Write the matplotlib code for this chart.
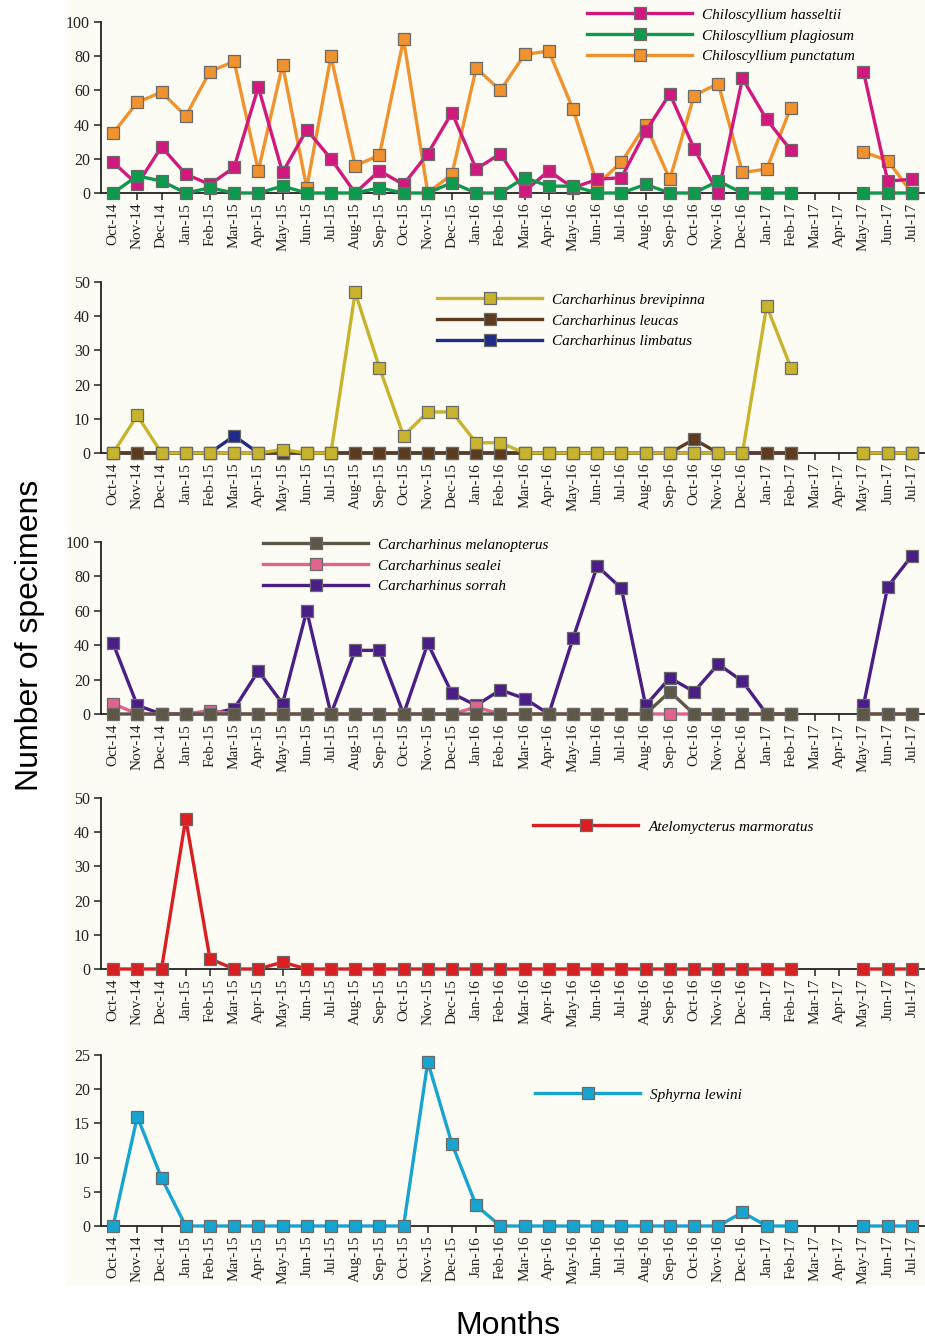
import numpy as np
import matplotlib
matplotlib.use("Agg")
import matplotlib.pyplot as plt
from matplotlib.patches import Rectangle

nan = np.nan

months = ["Oct-14", "Nov-14", "Dec-14", "Jan-15", "Feb-15", "Mar-15", "Apr-15",
          "May-15", "Jun-15", "Jul-15", "Aug-15", "Sep-15", "Oct-15", "Nov-15",
          "Dec-15", "Jan-16", "Feb-16", "Mar-16", "Apr-16", "May-16", "Jun-16",
          "Jul-16", "Aug-16", "Sep-16", "Oct-16", "Nov-16", "Dec-16", "Jan-17",
          "Feb-17", "Mar-17", "Apr-17", "May-17", "Jun-17", "Jul-17"]

# Monthly specimen counts (no sampling in Mar-17 and Apr-17)
hasseltii = [18, 5, 27, 11, 5, 15, 62, 12, 37, 20, 0, 13, 5, 23, 47, 14, 23, 1, 13, 3,
             8, 9, 36, 58, 26, 0, 67, 43, 25, nan, nan, 71, 7, 8]
plagiosum = [0, 10, 7, 0, 3, 0, 0, 4, 0, 0, 0, 3, 0, 0, 6, 0, 0, 9, 4, 4,
             0, 0, 5, 0, 0, 7, 0, 0, 0, nan, nan, 0, 0, 0]
punctatum = [35, 53, 59, 45, 71, 77, 13, 75, 3, 80, 16, 22, 90, 0, 11, 73, 60, 81, 83, 49,
             5, 18, 40, 8, 57, 64, 12, 14, 50, nan, nan, 24, 19, 0]

brevipinna = [0, 11, 0, 0, 0, 0, 0, 1, 0, 0, 47, 25, 5, 12, 12, 3, 3, 0, 0, 0,
              0, 0, 0, 0, 0, 0, 0, 43, 25, nan, nan, 0, 0, 0]
leucas = [0, 0, 0, 0, 0, 0, 0, 0, 0, 0, 0, 0, 0, 0, 0, 0, 0, 0, 0, 0,
          0, 0, 0, 0, 4, 0, 0, 0, 0, nan, nan, 0, 0, 0]
limbatus = [0, 0, 0, 0, 0, 5, 0, 0, 0, 0, 0, 0, 0, 0, 0, 0, 0, 0, 0, 0,
            0, 0, 0, 0, 0, 0, 0, 0, 0, nan, nan, 0, 0, 0]

melanopterus = [0, 0, 0, 0, 0, 0, 0, 0, 0, 0, 0, 0, 0, 0, 0, 0, 0, 0, 0, 0,
                0, 0, 0, 13, 0, 0, 0, 0, 0, nan, nan, 0, 0, 0]
sealei = [6, 0, 0, 0, 2, 0, 0, 0, 0, 0, 0, 0, 0, 0, 0, 4, 0, 0, 0, 0,
          0, 0, 0, 0, 0, 0, 0, 0, 0, nan, nan, 0, 0, 0]
sorrah = [41, 5, 0, 0, 0, 3, 25, 6, 60, 0, 37, 37, 0, 41, 12, 5, 14, 9, 0, 44,
          86, 73, 5, 21, 13, 29, 19, 0, 0, nan, nan, 5, 74, 92]

marmoratus = [0, 0, 0, 44, 3, 0, 0, 2, 0, 0, 0, 0, 0, 0, 0, 0, 0, 0, 0, 0,
              0, 0, 0, 0, 0, 0, 0, 0, 0, nan, nan, 0, 0, 0]

lewini = [0, 16, 7, 0, 0, 0, 0, 0, 0, 0, 0, 0, 0, 24, 12, 3, 0, 0, 0, 0,
          0, 0, 0, 0, 0, 0, 2, 0, 0, nan, nan, 0, 0, 0]

# (label, values, colour, stacking order) for each panel; legend order as listed
panels = [
    dict(ymax=100, step=20, series=[
        ("Chiloscyllium hasseltii", hasseltii, "#d1187f", 4),
        ("Chiloscyllium plagiosum", plagiosum, "#0c9a4c", 5),
        ("Chiloscyllium punctatum", punctatum, "#f0922e", 3)],
        legend_xy=(587, 8)),
    dict(ymax=50, step=10, series=[
        ("Carcharhinus brevipinna", brevipinna, "#c8b42c", 5),
        ("Carcharhinus leucas", leucas, "#5c3b1f", 4),
        ("Carcharhinus limbatus", limbatus, "#1e2b88", 3)],
        legend_xy=(437, 293)),
    dict(ymax=100, step=20, series=[
        ("Carcharhinus melanopterus", melanopterus, "#5e5747", 5),
        ("Carcharhinus sealei", sealei, "#e0648e", 4),
        ("Carcharhinus sorrah", sorrah, "#4a1e86", 3)],
        legend_xy=(263, 538)),
    dict(ymax=50, step=10, series=[
        ("Atelomycterus marmoratus", marmoratus, "#d91f21", 4)],
        legend_xy=(533, 820)),
    dict(ymax=25, step=5, series=[
        ("Sphyrna lewini", lewini, "#17a4d0", 4)],
        legend_xy=(535, 1088)),
]

W, H = 925, 1342
fig = plt.figure(figsize=(W / 100, H / 100), dpi=100, facecolor="white")

# faint cream backdrop behind the panels
fig.patches.append(Rectangle((67 / W, 1 - 1286 / H), 1 - 67 / W, 1286 / H,
                             transform=fig.transFigure, facecolor="#fcfcf5",
                             edgecolor="none", zorder=-10))

serif = ["Liberation Serif", "DejaVu Serif"]
sans = ["Liberation Sans", "DejaVu Sans"]

# pixel rows of the top and zero lines of each panel
rows = [(22, 193), (282, 453), (542, 714), (798, 969), (1055, 1226)]
x = np.arange(len(months))

for (top, bot), p in zip(rows, panels):
    ax = fig.add_axes([101 / W, 1 - bot / H, (924 - 101) / W, (bot - top) / H])
    ax.set_facecolor("none")
    for name, vals, col, z in p["series"]:
        ax.plot(x, np.array(vals, dtype=float), color=col, lw=2.4,
                marker="s", markersize=8.7, markerfacecolor=col,
                markeredgecolor="#6a6a6a", markeredgewidth=0.9,
                clip_on=False, zorder=z, label=name)
    ax.set_xlim(-0.5, len(months) - 0.5)
    ax.set_ylim(0, p["ymax"])
    ax.set_yticks(np.arange(0, p["ymax"] + 1, p["step"]))
    ax.set_xticks(x)
    ax.set_xticklabels(months, rotation=90, fontsize=11, family=serif, color="#222222")
    for lab in ax.get_yticklabels():
        lab.set_fontfamily(serif)
        lab.set_fontsize(11.5)
        lab.set_color("#222222")
    ax.tick_params(axis="both", direction="out", length=5, width=1.1, color="#222222")
    ax.tick_params(axis="x", pad=2)
    ax.tick_params(axis="y", pad=3)
    for s in ("top", "right"):
        ax.spines[s].set_visible(False)
    for s in ("left", "bottom"):
        ax.spines[s].set_linewidth(1.3)
        ax.spines[s].set_color("#222222")
        ax.spines[s].set_zorder(2)

    lx, ly = p["legend_xy"]
    leg = ax.legend(loc="upper left", bbox_to_anchor=(lx / W, 1 - ly / H),
                    bbox_transform=fig.transFigure, frameon=False,
                    borderpad=0, borderaxespad=0, handlelength=6.9,
                    handletextpad=0.65, labelspacing=0.47, numpoints=1,
                    prop=dict(family=serif, style="italic", size=11))
    leg.set_zorder(10)

fig.text(30 / W, 1 - 635 / H, "Number of specimens", rotation=90,
         ha="center", va="center", fontsize=23, family=sans)
fig.text(508 / W, 1 - 1326 / H, "Months", ha="center", va="center",
         fontsize=23, family=sans)

fig.savefig("out.png", dpi=100, facecolor="white")
